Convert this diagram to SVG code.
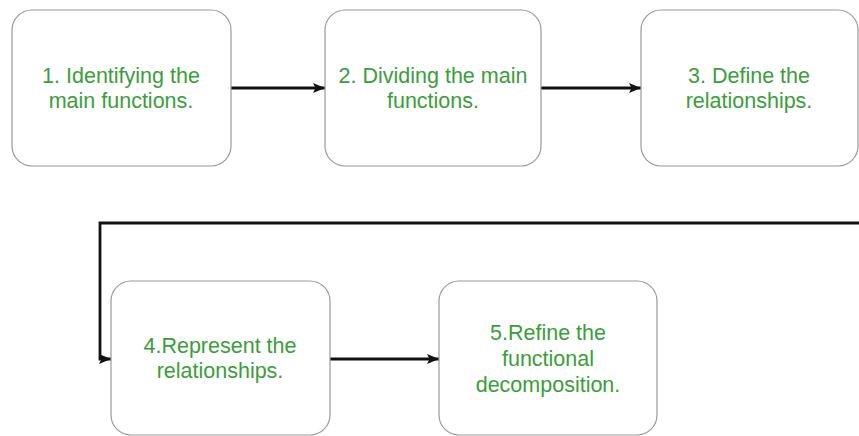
<svg xmlns="http://www.w3.org/2000/svg" width="859" height="436" viewBox="0 0 859 436">
<defs>
<marker id="arr" markerWidth="12" markerHeight="10" refX="12" refY="5" orient="auto" markerUnits="userSpaceOnUse">
<path d="M0,0 L12,5 L0,10 L2.5,5 Z" fill="#111"/>
</marker>
</defs>
<style>
.box{fill:#fff;stroke:#9a9a9a;stroke-width:1.2}
.t{font-family:"Liberation Sans",Arial,sans-serif;font-size:21.5px;fill:#3a9e3a;text-anchor:middle}
.c{fill:none;stroke:#111;stroke-width:2.8;marker-end:url(#arr)}
</style>
<rect width="859" height="436" fill="#fff"/>
<g id="connectors">
<line class="c" x1="231" y1="88" x2="325" y2="88"/>
<line class="c" x1="541" y1="88" x2="641" y2="88"/>
<polyline class="c" points="859,223 100,223 100,359 111,359"/>
<line class="c" x1="330" y1="359" x2="439" y2="359"/>
</g>
<g id="n1">
<rect class="box" x="12" y="10" width="219" height="156" rx="20"/>
<text class="t" x="121" y="83">1. Identifying the</text>
<text class="t" x="121" y="108">main functions.</text>
</g>
<g id="n2">
<rect class="box" x="325" y="10" width="216" height="156" rx="20"/>
<text class="t" x="433" y="83">2. Dividing the main</text>
<text class="t" x="433" y="108">functions.</text>
</g>
<g id="n3">
<rect class="box" x="641" y="10" width="217" height="156" rx="20"/>
<text class="t" x="749" y="83">3. Define the</text>
<text class="t" x="749" y="108">relationships.</text>
</g>
<g id="n4">
<rect class="box" x="111" y="281" width="219" height="154" rx="20"/>
<text class="t" x="220" y="353">4.Represent the</text>
<text class="t" x="220" y="378">relationships.</text>
</g>
<g id="n5">
<rect class="box" x="439" y="281" width="218" height="154" rx="20"/>
<text class="t" x="548" y="340">5.Refine the</text>
<text class="t" x="548" y="366">functional</text>
<text class="t" x="548" y="392">decomposition.</text>
</g>
</svg>
